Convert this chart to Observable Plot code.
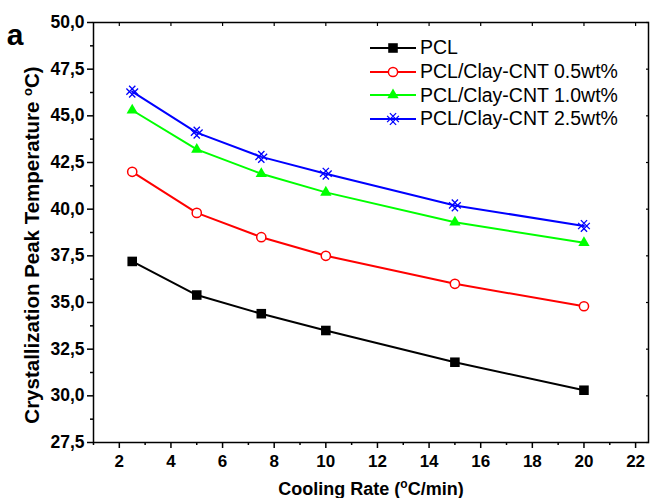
<!DOCTYPE html>
<html><head><meta charset="utf-8">
<script src="https://cdn.jsdelivr.net/npm/d3@7"></script>
<script src="https://cdn.jsdelivr.net/npm/@observablehq/plot@0.6"></script>
<style>
body{margin:0;background:#fff;font-family:"Liberation Sans",Arial,sans-serif;}
#chart{position:relative;width:650px;height:498px;}
#legend{position:absolute;left:368px;top:36px;font-size:19.5px;color:#000;}
.item{display:flex;align-items:center;height:23.7px;white-space:nowrap;}
.item svg{margin-right:2px;}
</style></head><body><div id="chart"><div id="legend"></div></div>
<script>
// ---- data ----
const coolingRate = [2.5, 5, 7.5, 10, 15, 20];
const pcl   = [37.2, 35.4, 34.4, 33.5, 31.8, 30.3];
const cnt05 = [42.0, 39.8, 38.5, 37.5, 36.0, 34.8];
const cnt10 = [45.3, 43.2, 41.9, 40.9, 39.3, 38.2];
const cnt25 = [46.3, 44.1, 42.8, 41.9, 40.2, 39.1];
const seriesNames = ["PCL", "PCL/Clay-CNT 0.5wt%", "PCL/Clay-CNT 1.0wt%", "PCL/Clay-CNT 2.5wt%"];
const seriesColors = ["#000000", "#ff0000", "#00ff00", "#0000ff"];
const xMajorTicks = [2, 4, 6, 8, 10, 12, 14, 16, 18, 20, 22];
const xMinorTicks = [1, 3, 5, 7, 9, 11, 13, 15, 17, 19, 21];
const yMajorTicks = [27.5, 30, 32.5, 35, 37.5, 40, 42.5, 45, 47.5, 50];
const yMinorTicks = [28.75, 31.25, 33.75, 36.25, 38.75, 41.25, 43.75, 46.25, 48.75];
const panelLabel = "a";

const values = [pcl, cnt05, cnt10, cnt25];
const data = seriesNames.flatMap((s, i) => coolingRate.map((x, j) => ({series: s, x, y: values[i][j]})));
const bySeries = i => data.filter(d => d.series === seriesNames[i]);

// hatched marker: rotated "#" lattice clipped to a square
const hatch = {
  draw(ctx, size) {
    const r = Math.sqrt(size / Math.PI);
    const h = r * 0.9, c = r * 0.42;
    ctx.moveTo(-h, -h + c); ctx.lineTo(h - c, h);
    ctx.moveTo(-h + c, -h); ctx.lineTo(h, h - c);
    ctx.moveTo(c - h, h); ctx.lineTo(h, c - h);
    ctx.moveTo(-h, h - c); ctx.lineTo(h - c, -h);
  }
};

const fmtY = d => d.toFixed(1).replace(".", ",");

const plot = Plot.plot({
  width: 650, height: 498,
  marginLeft: 93, marginRight: 2, marginTop: 22, marginBottom: 56,
  style: {fontFamily: "'Liberation Sans', Arial, sans-serif", fontSize: "17px", fontWeight: "bold", color: "#000", background: "#fff", overflow: "visible"},
  x: {domain: [1, 22.5]},
  y: {domain: [27.5, 50]},
  color: {domain: seriesNames, range: seriesColors},
  marks: [
    Plot.axisX({ticks: xMajorTicks, tickSize: 6, tickPadding: 6, tickFormat: d => String(d), label: null, strokeWidth: 1.5}),
    Plot.axisX({ticks: xMinorTicks, tickSize: 3, text: null, label: null, strokeWidth: 1.5}),
    Plot.axisX({anchor: "top", ticks: xMajorTicks, tickSize: -3, text: null, label: null, strokeWidth: 1.2}),
    Plot.axisY({ticks: yMajorTicks, tickSize: 6, tickPadding: 3, tickFormat: fmtY, label: null, strokeWidth: 1.5, fontSize: 17.5}),
    Plot.axisY({ticks: yMinorTicks, tickSize: 3, text: null, label: null, strokeWidth: 1.5}),
    Plot.axisY({anchor: "right", ticks: yMajorTicks, tickSize: -3, text: null, label: null, strokeWidth: 1.2}),
    Plot.frame({stroke: "#000", strokeWidth: 1.5}),
    Plot.line(data, {x: "x", y: "y", z: "series", stroke: "series", strokeWidth: 2}),
    Plot.dot(bySeries(0), {x: "x", y: "y", symbol: "square", r: 5.4, fill: seriesColors[0], stroke: "none"}),
    Plot.dot(bySeries(1), {x: "x", y: "y", symbol: "circle", r: 4.6, fill: "#fff", stroke: seriesColors[1], strokeWidth: 1.5}),
    Plot.dot(bySeries(2), {x: "x", y: "y", symbol: "triangle", r: 4.2, fill: seriesColors[2], stroke: "none"}),
    Plot.dot(bySeries(3), {x: "x", y: "y", symbol: hatch, r: 6.5, fill: "none", stroke: seriesColors[3], strokeWidth: 1.3})
  ]
});
document.getElementById("chart").prepend(plot);

// axis titles and panel label as SVG text
const svg = d3.select(plot);
const xt = svg.append("text").attr("x", 371).attr("y", 495).attr("text-anchor", "middle")
  .style("font-size", "18px").style("font-weight", "bold");
xt.append("tspan").text("Cooling Rate (");
xt.append("tspan").attr("dy", "-7").style("font-size", "12px").text("o");
xt.append("tspan").attr("dy", "7").text("C/min)");

const yt = svg.append("text").attr("transform", "translate(39,245) rotate(-90)").attr("text-anchor", "middle")
  .style("font-size", "20.5px").style("font-weight", "bold");
yt.append("tspan").text("Crystallization Peak Temperature ");
yt.append("tspan").attr("dy", "-7").style("font-size", "13px").text("o");
yt.append("tspan").attr("dy", "7").text("C)");

svg.append("text").attr("x", 15).attr("y", 45).style("font-size", "30px").style("font-weight", "bold").text(panelLabel);

// legend
const symbols = [d3.symbolSquare, d3.symbolCircle, d3.symbolTriangle, hatch];
const symSizes = [Math.PI * 5.4 * 5.4, Math.PI * 4.6 * 4.6, Math.PI * 4.2 * 4.2, Math.PI * 6.5 * 6.5];
const fills = [seriesColors[0], "#fff", seriesColors[2], "none"];
const strokes = ["none", seriesColors[1], "none", seriesColors[3]];
const leg = d3.select("#legend");
seriesNames.forEach((name, i) => {
  const item = leg.append("div").attr("class", "item");
  const s = item.append("svg").attr("width", 50).attr("height", 20);
  s.append("line").attr("x1", 2).attr("x2", 48).attr("y1", 10).attr("y2", 10).attr("stroke", seriesColors[i]).attr("stroke-width", 2);
  s.append("path").attr("transform", "translate(25,10)").attr("d", d3.symbol(symbols[i], symSizes[i])())
    .attr("fill", fills[i]).attr("stroke", strokes[i]).attr("stroke-width", i === 3 ? 1.3 : 1.5);
  item.append("span").text(name);
});
</script>
</body></html>
